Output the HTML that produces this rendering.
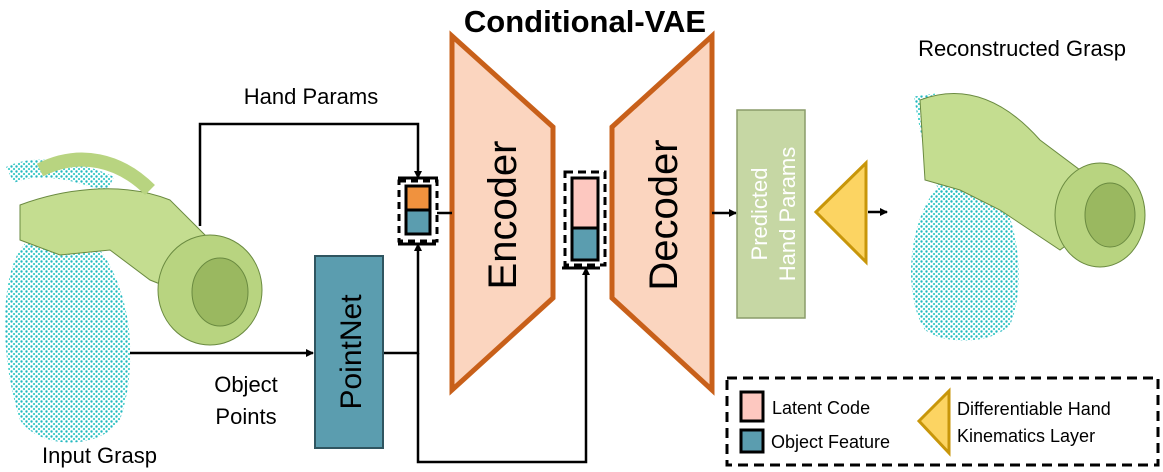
<!DOCTYPE html>
<html><head><meta charset="utf-8"><style>
html,body{margin:0;padding:0;background:#fff;}
svg{display:block;font-family:"Liberation Sans",Arial,sans-serif;}
</style></head><body>
<svg width="1163" height="472" viewBox="0 0 1163 472" xmlns="http://www.w3.org/2000/svg">
<defs>
<marker id="ah" markerWidth="8" markerHeight="8" refX="7" refY="4" orient="auto" markerUnits="userSpaceOnUse">
<path d="M0,0 L8,4 L0,8 z" fill="#000"/></marker>
<pattern id="dots" width="5" height="5" patternUnits="userSpaceOnUse">
<circle cx="1.5" cy="1.5" r="1.2" fill="#22b8c0"/><circle cx="4" cy="4" r="1.1" fill="#40cfc8"/></pattern>
</defs>

<!-- Input grasp (approx) -->
<path d="M20,250 C0,280 0,360 20,420 C40,450 100,450 120,420 C140,360 130,290 100,250 C80,220 40,220 20,250 z" fill="url(#dots)"/>
<path d="M10,175 C40,160 90,175 110,185" stroke="url(#dots)" stroke-width="18" fill="none"/>
<path d="M20,205 C60,190 120,180 170,200 L200,230 L230,260 L200,300 L150,280 L110,250 L60,255 L20,240 z" fill="#c4dd90" stroke="#6a8a40" stroke-width="1"/>
<path d="M40,170 C80,150 120,160 150,190" stroke="#b8d480" stroke-width="14" fill="none"/>
<ellipse cx="210" cy="290" rx="52" ry="55" fill="#b8d480" stroke="#6a8a40"/>
<ellipse cx="220" cy="292" rx="28" ry="34" fill="#9ab860" stroke="#6a8a40"/>

<!-- Reconstructed grasp (approx) -->
<path d="M935,190 C905,230 905,300 925,330 C945,345 990,345 1010,325 C1025,290 1020,230 1000,195 z" fill="url(#dots)"/>
<path d="M925,95 C930,130 940,170 955,200" stroke="url(#dots)" stroke-width="22" fill="none"/>
<path d="M920,100 C960,85 1000,95 1040,140 L1080,170 L1100,220 L1060,250 L1000,210 L960,190 L925,180 z" fill="#c4dd90" stroke="#6a8a40"/>
<ellipse cx="1100" cy="215" rx="45" ry="52" fill="#b8d480" stroke="#6a8a40"/>
<ellipse cx="1110" cy="215" rx="25" ry="32" fill="#9ab860" stroke="#6a8a40"/>

<text x="585" y="32" font-size="31" font-weight="bold" text-anchor="middle">Conditional-VAE</text>
<text x="1022" y="56" font-size="22" text-anchor="middle">Reconstructed Grasp</text>
<text x="311" y="104" font-size="22" text-anchor="middle">Hand Params</text>
<text x="42" y="463" font-size="22">Input  Grasp</text>
<text x="246" y="392" font-size="22" text-anchor="middle">Object</text>
<text x="246" y="424" font-size="22" text-anchor="middle">Points</text>

<!-- Encoder / Decoder -->
<polygon points="452,36 553,127 553,298 452,390" fill="#fbd5bf" stroke="#c8601a" stroke-width="5"/>
<polygon points="612,127 712,36 712,390 612,298" fill="#fbd5bf" stroke="#c8601a" stroke-width="5"/>
<text transform="translate(516,215) rotate(-90)" font-size="40" text-anchor="middle">Encoder</text>
<text transform="translate(677,215) rotate(-90)" font-size="40" text-anchor="middle">Decoder</text>

<!-- Lines -->
<polyline points="200,226 200,124 418,124 418,178" fill="none" stroke="#000" stroke-width="2.5" marker-end="url(#ah)"/>
<line x1="437" y1="213" x2="452" y2="213" stroke="#000" stroke-width="2.5"/>
<line x1="130" y1="353" x2="313" y2="353" stroke="#000" stroke-width="2.5" marker-end="url(#ah)"/>
<polyline points="383,353 418,353 418,244" fill="none" stroke="#000" stroke-width="2.5" marker-end="url(#ah)"/>
<polyline points="418,353 418,462 586,462 586,268" fill="none" stroke="#000" stroke-width="2.5" marker-end="url(#ah)"/>
<line x1="712" y1="213" x2="736" y2="213" stroke="#000" stroke-width="2.5" marker-end="url(#ah)"/>
<line x1="868" y1="212" x2="887" y2="212" stroke="#000" stroke-width="2.5" marker-end="url(#ah)"/>
<line x1="398" y1="178" x2="438" y2="178" stroke="#000" stroke-width="3"/>
<line x1="398" y1="244" x2="436" y2="244" stroke="#000" stroke-width="3"/>
<line x1="562" y1="268" x2="600" y2="268" stroke="#000" stroke-width="3"/>

<!-- small stacks -->
<rect x="399" y="181" width="38" height="60" fill="none" stroke="#000" stroke-width="3" stroke-dasharray="7,5"/>
<rect x="406" y="186" width="24" height="24" fill="#f0923e" stroke="#000" stroke-width="3"/>
<rect x="406" y="210" width="24" height="24" fill="#5b9daf" stroke="#000" stroke-width="3"/>
<rect x="565" y="172" width="40" height="93" fill="none" stroke="#000" stroke-width="3" stroke-dasharray="8,5"/>
<rect x="572" y="178" width="26" height="50" fill="#fdc8c0" stroke="#000" stroke-width="3"/>
<rect x="572" y="228" width="26" height="32" fill="#5b9daf" stroke="#000" stroke-width="3"/>

<!-- PointNet -->
<rect x="315" y="256" width="68" height="192" fill="#5b9daf" stroke="#2f5560" stroke-width="2"/>
<text transform="translate(361,352) rotate(-90)" font-size="30" text-anchor="middle">PointNet</text>

<!-- Predicted -->
<rect x="737" y="110" width="68" height="208" fill="#c6d7a4" stroke="#8a9c6a" stroke-width="1.5"/>
<text transform="translate(767,214) rotate(-90)" font-size="22" text-anchor="middle" fill="#fff">Predicted</text>
<text transform="translate(795,214) rotate(-90)" font-size="22" text-anchor="middle" fill="#fff">Hand Params</text>

<polygon points="816,212 866,163 866,262" fill="#fcd462" stroke="#c8960a" stroke-width="3"/>

<!-- Legend -->
<rect x="727" y="378" width="431" height="87" fill="none" stroke="#000" stroke-width="3" stroke-dasharray="10,6"/>
<rect x="741" y="392" width="22" height="29" fill="#fdc8c0" stroke="#000" stroke-width="3"/>
<rect x="741" y="430" width="22" height="22" fill="#5b9daf" stroke="#000" stroke-width="3"/>
<text x="772" y="414" font-size="18">Latent Code</text>
<text x="771" y="448" font-size="18">Object Feature</text>
<polygon points="919,421 949,391 949,453" fill="#fcd462" stroke="#c8960a" stroke-width="3"/>
<text x="957" y="415" font-size="18">Differentiable Hand</text>
<text x="957" y="442" font-size="18">Kinematics Layer</text>
</svg>
</body></html>
